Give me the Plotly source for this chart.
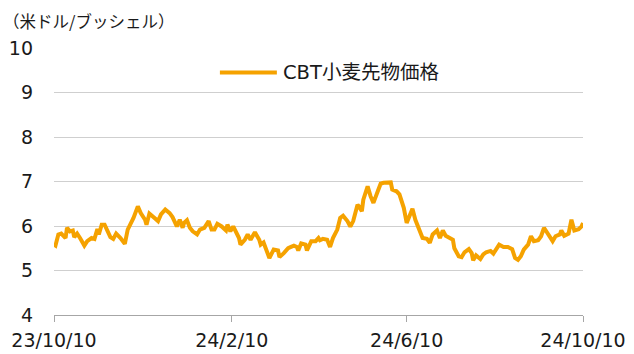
import plotly.graph_objects as go

# CBT wheat futures, USD per bushel
dates = [
    "2023-10-10", "2023-10-11", "2023-10-13", "2023-10-15", "2023-10-18", "2023-10-19",
    "2023-10-21", "2023-10-23", "2023-10-24", "2023-10-26", "2023-10-28", "2023-10-31",
    "2023-11-02", "2023-11-05", "2023-11-07", "2023-11-09", "2023-11-10", "2023-11-12",
    "2023-11-14", "2023-11-18", "2023-11-20", "2023-11-22", "2023-11-25", "2023-11-28",
    "2023-11-30", "2023-12-04", "2023-12-07", "2023-12-09", "2023-12-12", "2023-12-13",
    "2023-12-15", "2023-12-17", "2023-12-19", "2023-12-21", "2023-12-23", "2023-12-26",
    "2023-12-29", "2023-12-31", "2024-01-03", "2024-01-05", "2024-01-07", "2024-01-08",
    "2024-01-10", "2024-01-12", "2024-01-14", "2024-01-17", "2024-01-19", "2024-01-22",
    "2024-01-25", "2024-01-27", "2024-01-29", "2024-01-31", "2024-02-03", "2024-02-06",
    "2024-02-07", "2024-02-09", "2024-02-11", "2024-02-15", "2024-02-16", "2024-02-19",
    "2024-02-21", "2024-02-23", "2024-02-26", "2024-02-29", "2024-03-01", "2024-03-03",
    "2024-03-07", "2024-03-10", "2024-03-13", "2024-03-14", "2024-03-17", "2024-03-20",
    "2024-03-22", "2024-03-24", "2024-03-26", "2024-03-27", "2024-03-29", "2024-04-01",
    "2024-04-02", "2024-04-05", "2024-04-08", "2024-04-10", "2024-04-11", "2024-04-13",
    "2024-04-16", "2024-04-18", "2024-04-20", "2024-04-23", "2024-04-25", "2024-04-27",
    "2024-04-30", "2024-05-02", "2024-05-04", "2024-05-07", "2024-05-08", "2024-05-10",
    "2024-05-11", "2024-05-14", "2024-05-16", "2024-05-18", "2024-05-21", "2024-05-23",
    "2024-05-25", "2024-05-27", "2024-05-30", "2024-05-31", "2024-06-03", "2024-06-05",
    "2024-06-06", "2024-06-08", "2024-06-10", "2024-06-12", "2024-06-14", "2024-06-16",
    "2024-06-19", "2024-06-21", "2024-06-24", "2024-06-26", "2024-06-28", "2024-07-01",
    "2024-07-03", "2024-07-05", "2024-07-07", "2024-07-10", "2024-07-12", "2024-07-13",
    "2024-07-16", "2024-07-18", "2024-07-20", "2024-07-23", "2024-07-25", "2024-07-26",
    "2024-07-28", "2024-07-31", "2024-08-02", "2024-08-04", "2024-08-07", "2024-08-09",
    "2024-08-11", "2024-08-13", "2024-08-16", "2024-08-19", "2024-08-22", "2024-08-24",
    "2024-08-26", "2024-08-28", "2024-08-30", "2024-09-02", "2024-09-04", "2024-09-06",
    "2024-09-09", "2024-09-11", "2024-09-13", "2024-09-16", "2024-09-19", "2024-09-21",
    "2024-09-24", "2024-09-25", "2024-09-27", "2024-09-30", "2024-10-02", "2024-10-04",
    "2024-10-07", "2024-10-09", "2024-10-10",
]
price = [
    5.58, 5.56, 5.81, 5.83, 5.73, 5.96,
    5.88, 5.90, 5.75, 5.83, 5.73, 5.56,
    5.66, 5.73, 5.71, 5.93, 5.81, 6.03,
    6.03, 5.75, 5.71, 5.83, 5.73, 5.60,
    5.92, 6.18, 6.44, 6.29, 6.14, 6.03,
    6.28, 6.22, 6.16, 6.11, 6.26, 6.37,
    6.29, 6.20, 5.99, 6.14, 5.96, 6.07,
    6.13, 5.96, 5.88, 5.81, 5.92, 5.96,
    6.11, 5.92, 5.92, 6.05, 5.99, 5.90,
    6.03, 5.88, 5.99, 5.73, 5.58, 5.69,
    5.81, 5.69, 5.86, 5.69, 5.58, 5.63,
    5.28, 5.47, 5.45, 5.30, 5.39, 5.50,
    5.53, 5.56, 5.53, 5.45, 5.61, 5.58,
    5.45, 5.66, 5.66, 5.73, 5.68, 5.71,
    5.69, 5.53, 5.73, 5.92, 6.18, 6.23,
    6.11, 5.99, 6.11, 6.48, 6.44, 6.33,
    6.59, 6.89, 6.67, 6.52, 6.78, 6.95,
    6.97, 6.97, 6.98, 6.82, 6.78, 6.71,
    6.60, 6.41, 6.07, 6.22, 6.39, 6.14,
    5.88, 5.73, 5.71, 5.62, 5.81, 5.90,
    5.73, 5.90, 5.78, 5.71, 5.69, 5.50,
    5.32, 5.30, 5.41, 5.48, 5.39, 5.23,
    5.34, 5.26, 5.36, 5.41, 5.44, 5.38,
    5.50, 5.58, 5.53, 5.53, 5.48, 5.28,
    5.24, 5.32, 5.47, 5.58, 5.77, 5.66,
    5.68, 5.77, 5.96, 5.81, 5.66, 5.77,
    5.81, 5.90, 5.78, 5.83, 6.14, 5.90,
    5.93, 5.99, 6.07,
]

tick_dates = ["2023-10-10", "2024-02-10", "2024-06-10", "2024-10-10"]
tick_labels = ["23/10/10", "24/2/10", "24/6/10", "24/10/10"]
y_ticks = [4, 5, 6, 7, 8, 9, 10]

series_name = "CBT小麦先物価格"
unit_label = "（米ドル/ブッシェル）"

LINE_COLOR = "#F5A200"
FONT = "DejaVu Sans, Noto Sans CJK JP, sans-serif"

# plot area in pixels
PL, PR, PT, PB = 54, 583.3, 48.3, 314.7
PW, PH = PR - PL, PB - PT

fig = go.Figure()
fig.add_trace(go.Scatter(
    x=dates, y=price, mode="lines", name=series_name,
    line=dict(color=LINE_COLOR, width=4),
    showlegend=False,
))

# legend key drawn as a line sample plus label
fig.add_shape(type="line", xref="paper", yref="paper",
              x0=(220 - PL) / PW, x1=(277 - PL) / PW,
              y0=(PB - 72.7) / PH, y1=(PB - 72.7) / PH,
              line=dict(color=LINE_COLOR, width=4))
fig.add_annotation(xref="paper", yref="paper",
                   x=(281 - PL) / PW, y=(PB - 73) / PH,
                   xanchor="left", yanchor="middle", showarrow=False,
                   text=series_name,
                   font=dict(family="DejaVu Sans, Noto Sans CJK JP", size=19.5, color="#1a1a1a"))

# unit label above the y axis
fig.add_annotation(xref="paper", yref="paper",
                   x=(1 - PL) / PW, y=(PB - 21) / PH,
                   xanchor="left", yanchor="middle", showarrow=False,
                   text=unit_label,
                   font=dict(family="Noto Sans CJK JP", size=16.5, color="#1a1a1a"))

fig.update_layout(
    width=634, height=354,
    margin=dict(l=PL, r=634 - PR, t=PT, b=354 - PB, autoexpand=False),
    paper_bgcolor="white", plot_bgcolor="white",
    font=dict(family=FONT, size=19, color="#1a1a1a"),
    xaxis=dict(
        type="date",
        range=["2023-10-10", "2024-10-10"],
        tickvals=tick_dates, ticktext=tick_labels,
        showgrid=False, zeroline=False, automargin=False,
        showline=True, linecolor="#A6A6A6", linewidth=1.3,
        ticks="outside", ticklen=6, tickcolor="#A6A6A6", tickwidth=1.3,
        tickfont=dict(size=19),
        ticklabelstandoff=2,
    ),
    yaxis=dict(
        range=[4, 10], tickvals=y_ticks,
        showgrid=True, gridcolor="#CFCFCF", gridwidth=1.3,
        zeroline=False, showline=False, ticks="", automargin=False,
        tickfont=dict(size=19),
        ticklabelstandoff=20,
    ),
)

fig.write_html("out.html")
